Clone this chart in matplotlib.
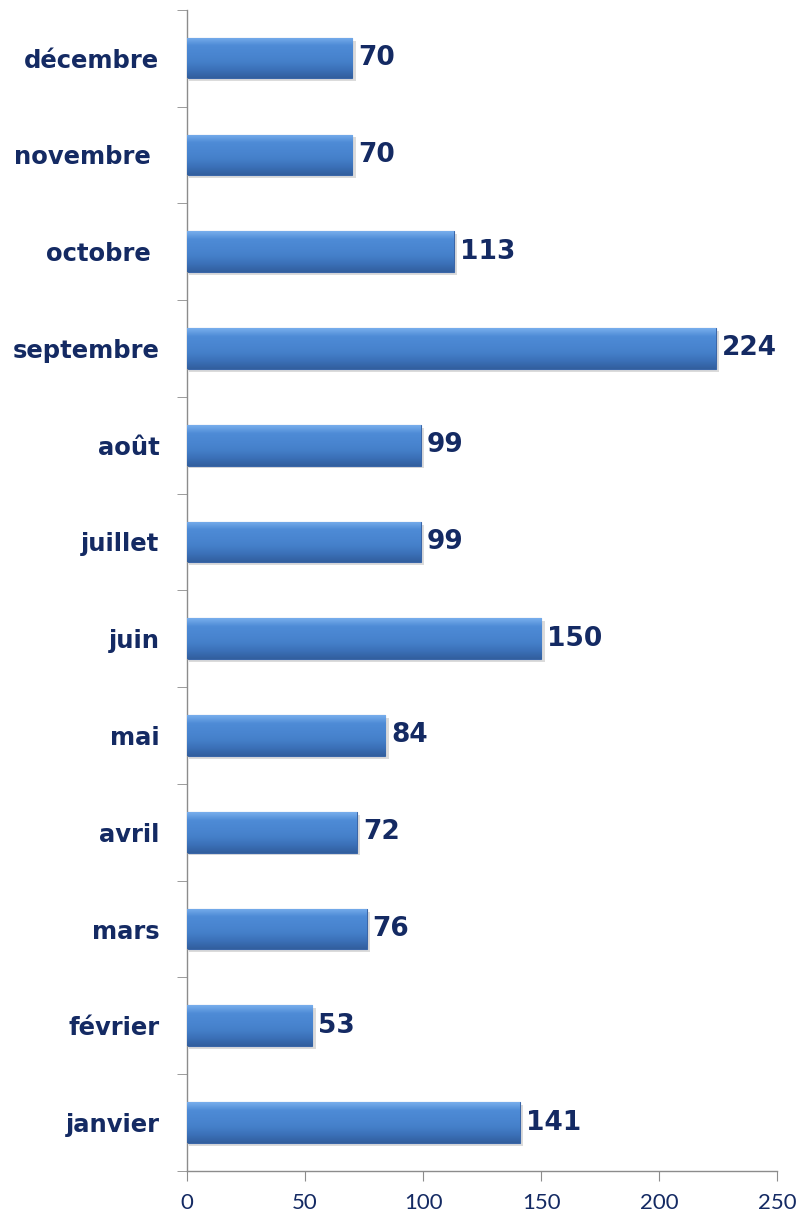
import numpy as np
import matplotlib.pyplot as plt
from matplotlib.colors import LinearSegmentedColormap

months = ["janvier", "février", "mars", "avril", "mai", "juin",
          "juillet", "août", "septembre", "octobre ", "novembre ", "décembre"]
values = [141, 53, 76, 72, 84, 150, 99, 99, 224, 113, 70, 70]
x_ticks = [0, 50, 100, 150, 200, 250]

NAVY = "#142a63"
AXIS_GREY = "#8c8c8c"


def main():
    fig = plt.figure(figsize=(8.03, 12.21), dpi=100)
    ax = fig.add_axes([0.233, 0.041, 0.735, 0.951])

    y = np.arange(len(months))
    bar_h = 0.42

    # soft shadow under each bar
    ax.barh(y - 0.03, [v + 0.8 for v in values], height=bar_h, left=0.6,
            color="#9a9a9a", alpha=0.35, zorder=1, linewidth=0)
    bars = ax.barh(y, values, height=bar_h, color="#4a82cc", zorder=2,
                   linewidth=0.8, edgecolor="#3a66a8")

    # vertical gradient inside each bar
    cmap = LinearSegmentedColormap.from_list(
        "bar", ["#325f9e", "#3b70b8", "#4580ca", "#4a86d1", "#4e8bd6", "#78aeec"])
    grad = np.linspace(0, 1, 100).reshape(-1, 1)
    for b in bars:
        x0, y0 = b.get_x(), b.get_y()
        w, h = b.get_width(), b.get_height()
        im = ax.imshow(grad, cmap=cmap, origin="lower", aspect="auto",
                       extent=[x0, x0 + w, y0, y0 + h], zorder=3)
        im.set_clip_path(b)

    for yi, v in zip(y, values):
        ax.text(v + 2.6, yi, str(v), va="center", ha="left",
                fontsize=19, fontweight="bold", color=NAVY,
                family="DejaVu Sans", zorder=4)

    ax.set_xlim(0, 250)
    ax.set_ylim(-0.5, len(months) - 0.5)
    ax.set_xticks(x_ticks)
    ax.set_xticklabels([str(t) for t in x_ticks], fontsize=16,
                       color=NAVY, family="Lato")
    ax.set_yticks(y)
    ax.set_yticklabels(months, fontsize=17.5, fontweight="bold",
                       color=NAVY, family="DejaVu Sans")
    ax.set_yticks(np.arange(-0.5, len(months), 1.0), minor=True)

    ax.tick_params(axis="y", which="major", length=0, pad=20)
    ax.tick_params(axis="y", which="minor", length=7, color=AXIS_GREY,
                   direction="out")
    ax.tick_params(axis="x", which="major", length=7, color=AXIS_GREY,
                   direction="out", pad=9)

    for side in ["top", "right"]:
        ax.spines[side].set_visible(False)
    for side in ["left", "bottom"]:
        ax.spines[side].set_color(AXIS_GREY)
        ax.spines[side].set_linewidth(1.0)

    fig.savefig("out.png", dpi=100)


if __name__ == '__main__':
    main()
